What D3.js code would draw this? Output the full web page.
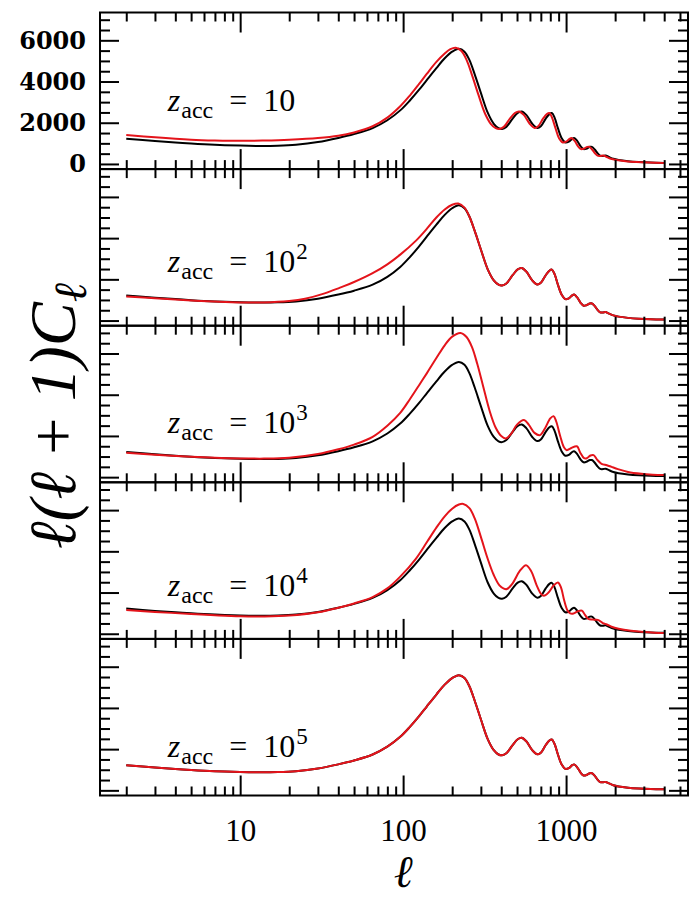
<!DOCTYPE html>
<html><head><meta charset="utf-8">
<script src="https://cdn.jsdelivr.net/npm/d3@7"></script>
<style>html,body{margin:0;padding:0;background:#fff;}svg{display:block;}</style>
</head><body>
<svg id="chart" width="689" height="897"></svg>
<script>
// ---------------- DATA ----------------
// Reference model (black), same in all panels
const ellBase = [2,3,4,5,7,10,13,17,22,30,40,50,65,80,96,110,125,140,160,180,200,220,238,255,275,300,330,360,385,405,430,470,505,534,570,620,666,700,750,790,818,850,890,940,990,1040,1090,1120,1170,1230,1280,1330,1400,1440,1500,1560,1620,1680,1750,1820,1950,2100,2400,2800,3300,4000];
const dlBase  = [1220,1110,1040,990,930,890,875,885,930,1060,1260,1450,1740,2120,2600,3080,3590,4080,4650,5130,5450,5590,5450,5050,4350,3450,2500,1950,1740,1700,1800,2200,2480,2550,2380,1950,1750,1830,2200,2420,2470,2250,1750,1250,1040,1080,1220,1260,1120,850,720,740,830,830,700,520,400,390,410,350,250,190,130,90,65,50];

// z_acc = 10 (red)
const ellZ1 = [2,3,5,7,10,14,20,30,40,50,65,80,96,110,125,140,160,180,195,210,228,245,265,290,318,345,370,390,415,452,487,515,550,598,642,675,722,762,790,820,860,905,955,1000,1050,1080,1130,1185,1235,1285,1350,1390,1445,1505,1560,1620,1690,1760,1880,2030,2320,2700,3200,4000];
const dlZ1  = [1400,1290,1180,1140,1120,1140,1180,1260,1370,1530,1830,2250,2800,3320,3870,4380,4950,5360,5570,5640,5480,5050,4300,3350,2450,1950,1740,1700,1800,2200,2480,2550,2380,1950,1750,1830,2200,2420,2470,2250,1750,1250,1040,1080,1220,1260,1120,850,720,740,830,830,700,520,400,390,410,350,250,190,130,90,65,50];

// z_acc = 10^2 (red)
const ellZ2 = [2,3,5,7,10,14,20,25,33,41,50,65,80,96,120,140,160,180,200,218,238,255,275,300,330,360,385,405,430,470,505,534,570,620,666,700,750,790,818,850,890,940,990,1040,1090,1120,1170,1230,1280,1330,1400,1440,1500,1560,1620,1680,1750,1820,1950,2100,2400,2800,3300,4000];
const dlZ2  = [1170,1080,970,920,880,880,950,1060,1320,1600,1870,2300,2730,3200,3880,4460,5000,5390,5620,5680,5480,5050,4350,3450,2500,1950,1740,1700,1800,2200,2480,2550,2380,1950,1750,1830,2200,2420,2470,2250,1750,1250,1040,1080,1220,1260,1120,850,720,740,830,830,700,520,400,390,410,350,250,190,130,90,65,50];

// z_acc = 10^3 (red)
const ellZ3 = [2,3,5,7,10,14,20,30,40,50,65,80,96,110,125,140,160,180,200,225,245,265,285,310,340,370,400,428,460,500,552,590,640,692,740,800,838,870,920,970,1010,1070,1165,1220,1290,1340,1410,1475,1550,1650,1780,1900,2080,2400,2900,3400,4000];
const dlZ3  = [1190,1090,990,940,910,900,940,1120,1350,1580,1960,2500,3120,3780,4450,5050,5780,6400,6820,7000,6800,6300,5500,4400,3200,2400,2000,1880,2100,2550,2770,2550,2150,2040,2350,2850,2960,2700,2000,1450,1310,1400,1500,1200,920,920,1050,1070,850,650,580,500,390,250,160,120,100];

// z_acc = 10^4 (red)
const ellZ4 = [2,3,5,7,10,14,20,30,40,50,65,80,96,120,140,160,180,200,220,234,255,275,300,330,360,390,415,433,470,520,568,610,660,700,731,780,840,892,930,975,1020,1060,1110,1180,1250,1310,1370,1450,1530,1580,1680,1780,1900,2100,2500,3000,3500,4000];
const dlZ4  = [1150,1060,960,900,850,840,880,1040,1260,1470,1780,2200,2770,3650,4450,5150,5700,6070,6270,6300,6100,5600,4700,3650,2850,2350,2190,2170,2450,3050,3330,3050,2350,1950,1840,2000,2350,2490,2250,1600,1130,990,980,1090,1120,900,720,690,680,660,520,450,340,240,140,80,50,35];

// z_acc = 10^5 (red) coincides with the reference model
const ellZ5 = ellBase.slice();
const dlZ5  = dlBase.slice();

const panelExponents = ["", "2", "3", "4", "5"];
const labelEll = [3.6, 3.6, 3.6, 3.6, 3.6];
const labelDl  = [2570, 2350, 2120, 1840, 1620];

const xMajor = [10, 100, 1000];
const xMinor = [2,3,4,5,6,7,8,9,20,30,40,50,60,70,80,90,200,300,400,500,600,700,800,900,2000,3000,4000,5000];
const yMajor = [0, 2000, 4000, 6000];
const yMinor = [500,1000,1500,2500,3000,3500,4500,5000,5500,6500,7000];
const xDomain = [1.38, 5600];
const yDomain = [-250, 7350];

// ---------------- DRAW ----------------
const svg = d3.select("#chart");
const left = 100, right = 688, top0 = 12.5, panelH = 156.6, nP = 5;
const x = d3.scaleLog().domain(xDomain).range([left, right]);

const panels = [
  {ell: ellZ1, red: dlZ1},
  {ell: ellZ2, red: dlZ2},
  {ell: ellZ3, red: dlZ3},
  {ell: ellZ4, red: dlZ4},
  {ell: ellZ5, red: dlZ5}
];

const RED = "#e4141b";

function styleAxis(g) {
  g.select(".domain").remove();
  g.selectAll(".tick line").attr("stroke", "#000").attr("stroke-width", 2);
}

panels.forEach((p, i) => {
  const t = top0 + i * panelH, b = t + panelH;
  const y = d3.scaleLinear().domain(yDomain).range([b, t]);
  const g = svg.append("g");

  const cid = "clip" + i;
  svg.append("clipPath").attr("id", cid).append("rect")
    .attr("x", left).attr("y", t).attr("width", right - left).attr("height", panelH);

  const line = d3.line().x(d => x(d[0])).y(d => y(d[1])).curve(d3.curveCatmullRom.alpha(0.5));
  const gl = g.append("g").attr("clip-path", `url(#${cid})`);
  gl.append("path").datum(ellBase.map((l, k) => [l, dlBase[k]]))
    .attr("d", line).attr("fill", "none").attr("stroke", "#000").attr("stroke-width", 2);
  gl.append("path").datum(p.ell.map((l, k) => [l, p.red[k]]))
    .attr("d", line).attr("fill", "none").attr("stroke", RED).attr("stroke-width", 2);

  [[d3.axisBottom, b], [d3.axisTop, t]].forEach(([ax, yy]) => {
    g.append("g").attr("transform", `translate(0,${yy})`)
      .call(ax(x).tickValues(xMajor).tickSizeInner(-20).tickSizeOuter(0).tickFormat(""))
      .call(styleAxis);
    g.append("g").attr("transform", `translate(0,${yy})`)
      .call(ax(x).tickValues(xMinor).tickSizeInner(-9).tickSizeOuter(0).tickFormat(""))
      .call(styleAxis);
  });
  [[d3.axisLeft, left], [d3.axisRight, right]].forEach(([ax, xx]) => {
    g.append("g").attr("transform", `translate(${xx},0)`)
      .call(ax(y).tickValues(yMajor).tickSizeInner(-19).tickSizeOuter(0).tickFormat(""))
      .call(styleAxis);
    g.append("g").attr("transform", `translate(${xx},0)`)
      .call(ax(y).tickValues(yMinor).tickSizeInner(-10).tickSizeOuter(0).tickFormat(""))
      .call(styleAxis);
  });

  if (i === 0) {
    const ga = g.append("g").attr("transform", `translate(${left},0)`)
      .call(d3.axisLeft(y).tickValues(yMajor).tickSize(0).tickPadding(14).tickFormat(d3.format("d")));
    ga.select(".domain").remove();
    ga.selectAll("text").attr("font-family", "'DejaVu Serif', serif").attr("font-weight", "bold")
      .attr("font-size", 24).attr("fill", "#000");
  }
  if (i === nP - 1) {
    const ga = g.append("g").attr("transform", `translate(0,${b})`)
      .call(d3.axisBottom(x).tickValues(xMajor).tickSize(0).tickPadding(23).tickFormat(d3.format("d")));
    ga.select(".domain").remove();
    ga.selectAll("text").attr("font-family", "'Liberation Serif', serif")
      .attr("font-size", 31).attr("fill", "#000");
  }

  g.append("rect").attr("x", left).attr("y", t).attr("width", right - left).attr("height", panelH)
    .attr("fill", "none").attr("stroke", "#000").attr("stroke-width", 2);

  // annotation
  const tx = g.append("text").attr("x", x(labelEll[i])).attr("y", y(labelDl[i]))
    .attr("font-family", "'Liberation Serif', serif").attr("font-size", 32).attr("fill", "#000");
  tx.append("tspan").attr("font-style", "italic").text("z");
  tx.append("tspan").attr("font-size", 24).attr("dy", 7).attr("dx", 1).text("acc");
  tx.append("tspan").attr("dy", -7).text("\u2002=\u200210");
  if (panelExponents[i]) tx.append("tspan").attr("font-size", 23).attr("dy", -13).attr("dx", 1).text(panelExponents[i]);
});

// axis titles
const yt = svg.append("text").attr("transform", "translate(75,416) rotate(-90)")
  .attr("text-anchor", "middle").attr("font-family", "'Liberation Serif', serif")
  .attr("font-size", 66).attr("font-style", "italic").attr("fill", "#000");
yt.append("tspan").text("\u2113(\u2113\u2009+\u20091)C");
yt.append("tspan").attr("font-size", 46).attr("dy", 11).text("\u2113");

svg.append("text").attr("x", x(100)).attr("y", 887).attr("text-anchor", "middle")
  .attr("font-family", "'Liberation Serif', serif").attr("font-size", 45)
  .attr("font-style", "italic").attr("fill", "#000").text("\u2113");
</script>
</body></html>
